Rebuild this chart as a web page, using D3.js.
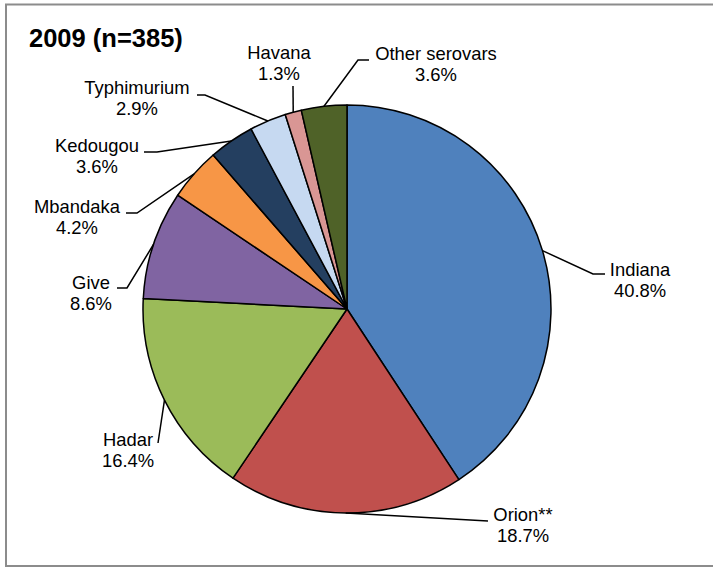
<!DOCTYPE html>
<html>
<head>
<meta charset="utf-8">
<script src="https://cdn.jsdelivr.net/npm/d3@7/dist/d3.min.js"></script>
<style>
  html, body { margin: 0; padding: 0; background: #fff; }
  svg { display: block; }
  text { font-family: "Liberation Sans", Arial, sans-serif; fill: #000; }
</style>
</head>
<body>
<svg id="chart" width="713" height="568"></svg>
<script>
// Serovar distribution, 2009 (n=385)
const categories = ["Indiana", "Orion**", "Hadar", "Give", "Mbandaka", "Kedougou", "Typhimurium", "Havana", "Other serovars"];
const percents   = [40.8, 18.7, 16.4, 8.6, 4.2, 3.6, 2.9, 1.3, 3.6];
const colors     = ["#4F81BD", "#C0504D", "#9BBB59", "#8064A2", "#F79646", "#243F60", "#C6D9F1", "#D99694", "#4F6228"];
const title = "2009 (n=385)";

// Label placement: text anchor (center x, first baseline) and leader elbow
const labelLayout = [
  { tx: 640, ty: 276, elbow: [[593, 274], [605, 274]] },
  { tx: 523, ty: 521, elbow: [[488, 521]] },
  { tx: 128, ty: 446, elbow: [[158, 443]] },
  { tx: 91,  ty: 289, elbow: [[127, 288], [117, 288]] },
  { tx: 77,  ty: 213, elbow: [[137, 213], [126, 213]] },
  { tx: 97,  ty: 152, elbow: [[157, 152], [144, 152]] },
  { tx: 137, ty: 94,  elbow: [[205, 95], [197, 95]] },
  { tx: 279, ty: 59,  elbow: [[293, 86]] },
  { tx: 436, ty: 60,  elbow: [[358, 60], [369, 60]] }
];

const svg = d3.select("#chart");
const W = 713, H = 568;
const cx = 347, cy = 309, r = 204;

// Outer frame
svg.append("rect")
  .attr("x", 6).attr("y", 4.5)
  .attr("width", W + 10).attr("height", 561.5)
  .attr("fill", "#fff")
  .attr("stroke", "#8c8c8c").attr("stroke-width", 2);

const data = categories.map((c, i) => ({ name: c, value: percents[i], color: colors[i], layout: labelLayout[i] }));

const pie = d3.pie().value(d => d.value).sort(null);
const arcs = pie(data);
const arc = d3.arc().innerRadius(0).outerRadius(r);

const g = svg.append("g").attr("transform", `translate(${cx},${cy})`);

g.selectAll("path.slice")
  .data(arcs)
  .join("path")
  .attr("class", "slice")
  .attr("d", arc)
  .attr("fill", d => d.data.color)
  .attr("stroke", "#000")
  .attr("stroke-width", 1.5)
  .attr("stroke-linejoin", "round");

// Leader lines from arc midpoints to labels
const line = d3.line();
arcs.forEach(a => {
  const mid = (a.startAngle + a.endAngle) / 2;
  const start = [cx + r * Math.sin(mid), cy - r * Math.cos(mid)];
  const pts = [start].concat(a.data.layout.elbow);
  svg.append("path")
    .attr("d", line(pts))
    .attr("fill", "none")
    .attr("stroke", "#000")
    .attr("stroke-width", 1.5);
});

// Labels: name and percentage
arcs.forEach(a => {
  const L = a.data.layout;
  const t = svg.append("text")
    .attr("x", L.tx).attr("y", L.ty)
    .attr("text-anchor", "middle")
    .style("font-size", "18.4px");
  t.append("tspan").attr("x", L.tx).text(a.data.name);
  t.append("tspan").attr("x", L.tx).attr("dy", 21).text(d3.format(".1f")(a.data.value) + "%");
});

// Title
svg.append("text")
  .attr("x", 29).attr("y", 47)
  .style("font-size", "25.5px")
  .style("font-weight", "bold")
  .text(title);
</script>
</body>
</html>
